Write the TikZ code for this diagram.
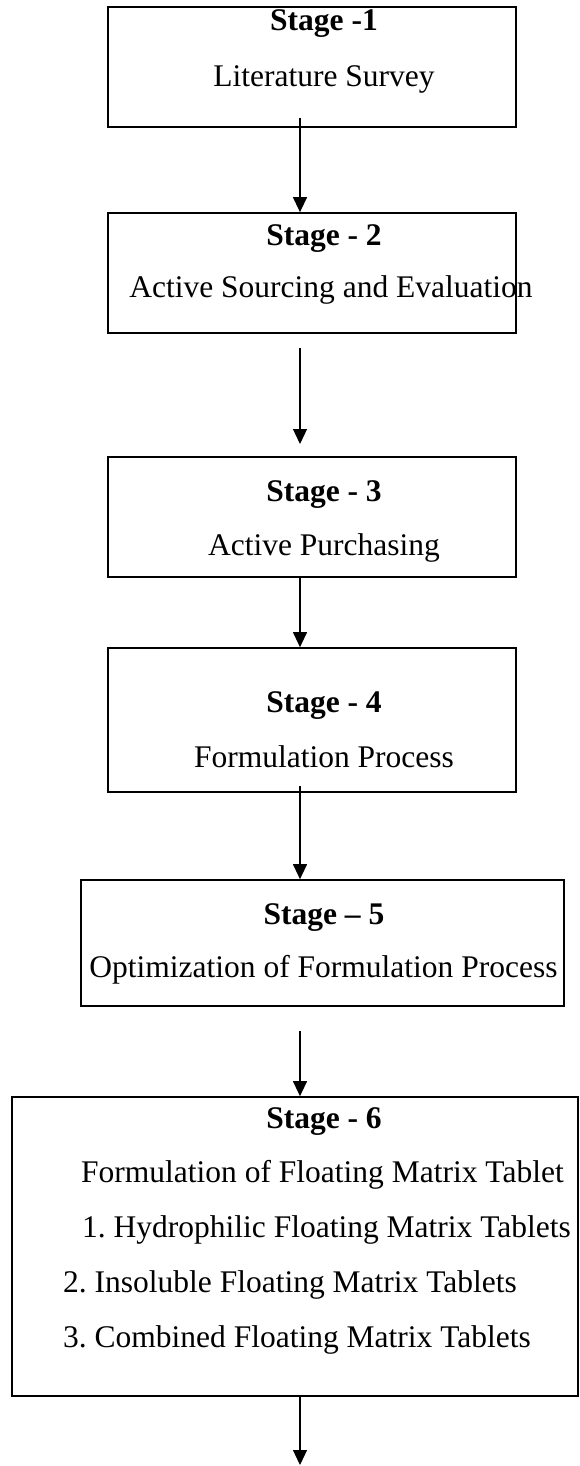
\documentclass[tikz,border=0pt]{standalone}
\usepackage{fontspec}
\setmainfont{Liberation Serif}
\usetikzlibrary{arrows.meta}
\frenchspacing
\begin{document}
\begin{tikzpicture}[x=1pt,y=-1pt,
  stagebox/.style={draw=black, line width=1.7pt, rectangle, inner sep=0pt},
  lbl/.style={inner sep=0pt, font=\fontsize{31.5}{36}\selectfont},
  ttl/.style={lbl, font=\fontsize{31.5}{36}\selectfont\bfseries},
  arr/.style={draw=black, line width=1.2pt, -{Triangle[length=15pt,width=14pt]}}]
\useasboundingbox (0,0) rectangle (580,1466);
% boxes
\node[stagebox, minimum width=408pt, minimum height=120pt] (b1) at (312,67) {};
\node[stagebox, minimum width=408pt, minimum height=120pt] (b2) at (312,273) {};
\node[stagebox, minimum width=408pt, minimum height=120pt] (b3) at (312,517) {};
\node[stagebox, minimum width=408pt, minimum height=144pt] (b4) at (312,720) {};
\node[stagebox, minimum width=483pt, minimum height=126pt] (b5) at (322.5,943) {};
\node[stagebox, minimum width=566pt, minimum height=299pt] (b6) at (295,1246.5) {};
% texts
\node[ttl, anchor=base] (t1) at (324,31) {Stage -1};
\node[lbl, anchor=base] (s1) at (324,87) {Literature Survey};
\node[ttl, anchor=base] (t2) at (324,245) {Stage - 2};
\node[lbl, anchor=base] (s2) at (331,297) {Active Sourcing and Evaluation};
\node[ttl, anchor=base] (t3) at (324,501) {Stage - 3};
\node[lbl, anchor=base] (s3) at (324,555) {Active Purchasing};
\node[ttl, anchor=base] (t4) at (324,712) {Stage - 4};
\node[lbl, anchor=base] (s4) at (324,767) {Formulation Process};
\node[ttl, anchor=base] (t5) at (324,924) {Stage -- 5};
\node[lbl, anchor=base] (s5) at (323.5,977) {Optimization of Formulation Process};
\node[ttl, anchor=base] (t6) at (324,1128) {Stage - 6};
\node[lbl, anchor=base west] (s6a) at (81,1182) {Formulation of Floating Matrix Tablet};
\node[lbl, anchor=base west] (s6b) at (82,1237) {1. Hydrophilic Floating Matrix Tablets};
\node[lbl, anchor=base west] (s6c) at (63,1292) {2. Insoluble Floating Matrix Tablets};
\node[lbl, anchor=base west] (s6d) at (63,1347) {3. Combined Floating Matrix Tablets};
% arrow ends
\coordinate (ax) at (300,0);
\coordinate (a1s) at (300,118);
\coordinate (a2s) at (300,348);
\coordinate (a2e) at (300,444);
\coordinate (a4s) at (300,786);
\coordinate (a5s) at (300,1031);
\coordinate (a6e) at (300,1465);
% connectors
\draw[arr] (a1s) -- (ax |- b2.north);
\draw[arr] (a2s) -- (a2e);
\draw[arr] (ax |- b3.south) -- (ax |- b4.north);
\draw[arr] (a4s) -- (ax |- b5.north);
\draw[arr] (a5s) -- (ax |- b6.north);
\draw[arr] (ax |- b6.south) -- (a6e);
\end{tikzpicture}
\end{document}
